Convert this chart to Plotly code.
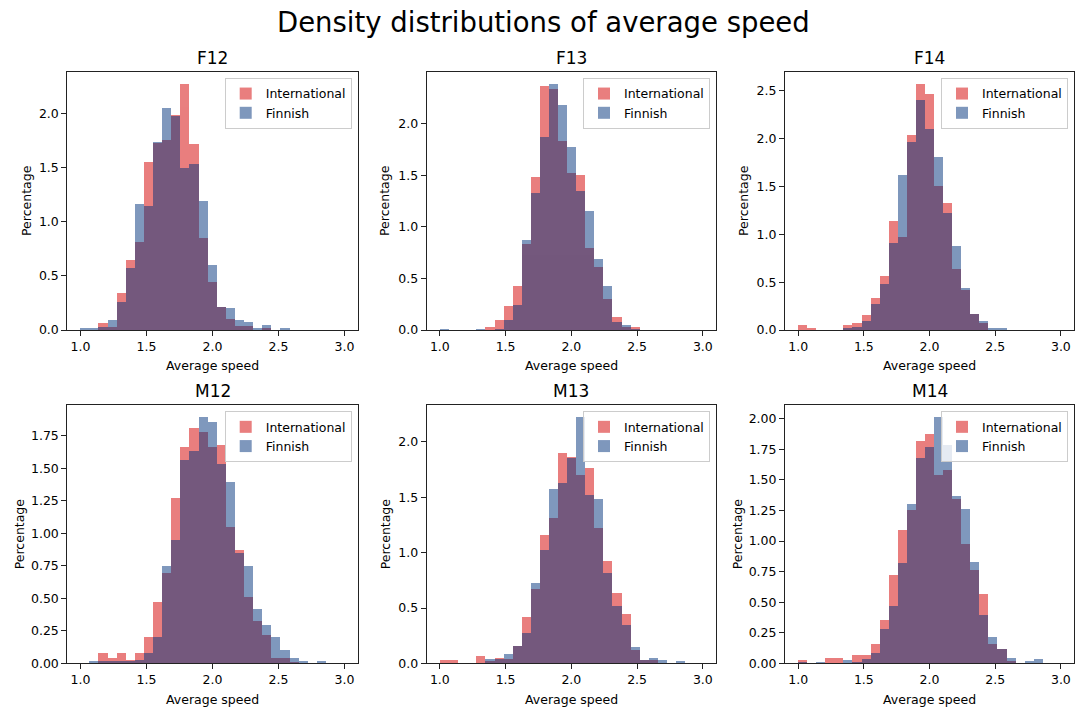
import plotly.graph_objects as go

# ---------------- data ----------------
BIN_START = 1.0
BIN_END = 3.0
N_BINS = 29

panel_titles = ["F12", "F13", "F14", "M12", "M13", "M14"]
series_names = ["International", "Finnish"]
x_tick_vals = [1.0, 1.5, 2.0, 2.5, 3.0]
x_tick_text = ["1.0", "1.5", "2.0", "2.5", "3.0"]

intl_F12 = [0, 0, 0.067, 0.03, 0.34, 0.65, 0.81, 1.55, 1.73, 1.76, 1.99, 2.27, 1.72, 0.85, 0.44,
            0.21, 0.10, 0.04, 0.04, 0, 0.015, 0, 0, 0, 0, 0, 0, 0, 0]
fin_F12 = [0.015, 0.015, 0.03, 0.09, 0.26, 0.57, 1.16, 1.15, 1.74, 2.05, 1.98, 1.50, 1.53, 1.19, 0.60,
           0.21, 0.20, 0.09, 0.075, 0.015, 0.05, 0, 0.015, 0, 0, 0, 0, 0, 0]

intl_F13 = [0, 0, 0, 0, 0, 0.03, 0.095, 0.23, 0.43, 0.83, 1.48, 2.36, 2.33, 1.83, 1.52,
            1.50, 0.79, 0.61, 0.30, 0.13, 0.03, 0.03, 0, 0, 0, 0, 0, 0, 0]
fin_F13 = [0.01, 0, 0, 0, 0.01, 0, 0.01, 0.095, 0.24, 0.87, 1.33, 1.87, 2.38, 2.18, 1.77,
           1.35, 1.15, 0.69, 0.43, 0.08, 0.05, 0.01, 0, 0, 0, 0, 0, 0, 0]

intl_F14 = [0.048, 0.02, 0, 0, 0, 0.048, 0.069, 0.16, 0.34, 0.56, 1.14, 0.97, 2.04, 2.57, 2.47,
            1.51, 1.33, 0.64, 0.42, 0.165, 0.07, 0, 0, 0, 0, 0, 0, 0, 0]
fin_F14 = [0, 0, 0, 0, 0, 0.02, 0.03, 0.093, 0.27, 0.48, 0.91, 1.62, 1.97, 2.41, 2.10,
           1.81, 1.22, 0.88, 0.44, 0.165, 0.096, 0.024, 0.017, 0, 0, 0, 0, 0, 0]

intl_M12 = [0, 0, 0.076, 0.043, 0.076, 0.023, 0.076, 0.20, 0.47, 0.69, 1.27, 1.66, 1.81, 1.78, 1.66,
            1.68, 1.05, 0.87, 0.51, 0.325, 0.216, 0.043, 0.043, 0.008, 0, 0, 0, 0, 0]
fin_M12 = [0, 0.013, 0.018, 0.013, 0.013, 0.013, 0.023, 0.076, 0.20, 0.75, 0.945, 1.56, 1.63, 1.89, 1.85,
           1.53, 1.39, 0.85, 0.75, 0.42, 0.29, 0.20, 0.10, 0.038, 0.013, 0, 0.013, 0, 0]

intl_M13 = [0.024, 0.024, 0, 0, 0.066, 0.02, 0.048, 0.04, 0.155, 0.415, 0.67, 1.155, 1.31, 1.90, 1.86,
            1.70, 1.76, 1.22, 0.92, 0.63, 0.44, 0.12, 0.024, 0.024, 0, 0, 0, 0, 0]
fin_M13 = [0, 0, 0, 0, 0, 0.04, 0.04, 0.087, 0.155, 0.275, 0.72, 1.02, 1.57, 1.63, 1.85,
           2.22, 1.52, 1.48, 0.81, 0.52, 0.34, 0.15, 0.024, 0.045, 0.024, 0, 0.015, 0, 0]

intl_M14 = [0.022, 0, 0, 0.046, 0.046, 0, 0.067, 0.067, 0.154, 0.35, 0.72, 1.09, 1.25, 1.82, 1.87,
            1.54, 1.58, 1.345, 0.976, 0.76, 0.566, 0.154, 0.113, 0.02, 0, 0, 0, 0, 0]
fin_M14 = [0.013, 0, 0.013, 0, 0, 0.027, 0.013, 0.035, 0.08, 0.28, 0.47, 0.82, 1.30, 1.68, 1.77,
           2.01, 1.78, 1.37, 1.26, 0.83, 0.39, 0.216, 0.113, 0.04, 0, 0.019, 0.032, 0, 0]

intl_values = [intl_F12, intl_F13, intl_F14, intl_M12, intl_M13, intl_M14]
fin_values = [fin_F12, fin_F13, fin_F14, fin_M12, fin_M13, fin_M14]

# ---------------- style ----------------
W, H = 1076, 710
FONT = "DejaVu Sans"
FS = 12.5
INTL_COLOR = "rgb(212,0,0)"
FIN_COLOR = "rgb(0,50,124)"
OPACITY = 0.5

col_px = [(67.3, 357.7), (426.7, 716.0), (785.0, 1074.0)]
row_px = [(72.7, 333.3), (409.3, 670.0)]
y_dtick = [0.5, 0.5, 0.5, 0.25, 0.5, 0.25]
y_fmt = [".1f", ".1f", ".1f", ".2f", ".1f", ".2f"]
ylabel_x = [27, 385, 744, 19, 385, 737]

bin_w = (BIN_END - BIN_START) / N_BINS
centers = [BIN_START + (k + 0.5) * bin_w for k in range(N_BINS)]

fig = go.Figure()
layout = dict(
    width=W, height=H,
    margin=dict(l=0, r=0, t=0, b=0),
    paper_bgcolor="white", plot_bgcolor="white",
    barmode="overlay", bargap=0,
    font=dict(family=FONT, size=FS, color="black"),
    showlegend=True,
)
annotations = []

for i, title in enumerate(panel_titles):
    r, c = divmod(i, 3)
    x0, x1 = col_px[c]
    ytop, ybot = row_px[r]
    xd = [x0 / W, x1 / W]
    yd = [1 - ybot / H, 1 - ytop / H]
    sfx = "" if i == 0 else str(i + 1)
    leg = "legend" + sfx

    for vals, name, color in ((intl_values[i], series_names[0], INTL_COLOR),
                              (fin_values[i], series_names[1], FIN_COLOR)):
        fig.add_trace(go.Bar(
            x=centers, y=vals, width=bin_w, name=name,
            marker=dict(color=color, line=dict(width=0)),
            opacity=OPACITY, xaxis="x" + sfx, yaxis="y" + sfx,
            legend=leg, hoverinfo="skip",
        ))

    ymax = max(max(intl_values[i]), max(fin_values[i])) * 1.05
    axis_common = dict(showline=True, linecolor="#222", linewidth=1, mirror=True,
                       ticks="outside", ticklen=5, tickwidth=1, tickcolor="#222",
                       showgrid=False, zeroline=False,
                       tickfont=dict(family=FONT, size=FS, color="black"))
    layout["xaxis" + sfx] = dict(domain=xd, anchor="y" + sfx, range=[BIN_START - 0.1, BIN_END + 0.1],
                                 tickvals=x_tick_vals, ticktext=x_tick_text, **axis_common)
    layout["yaxis" + sfx] = dict(domain=yd, anchor="x" + sfx, range=[0, ymax],
                                 tick0=0, dtick=y_dtick[i], tickformat=y_fmt[i], **axis_common)

    layout[leg] = dict(
        x=(x1 - 6) / W, y=1 - (ytop + 6) / H, xanchor="right", yanchor="top",
        xref="paper", yref="paper",
        bgcolor="rgba(255,255,255,0.8)", bordercolor="#cccccc", borderwidth=1,
        font=dict(family=FONT, size=FS, color="black"),
        tracegroupgap=0, itemwidth=30,
    )

    # panel title
    annotations.append(dict(text=title, x=(x0 + x1) / 2 / W, y=1 - (ytop - 2) / H,
                            xref="paper", yref="paper", xanchor="center", yanchor="bottom",
                            showarrow=False, font=dict(family=FONT, size=17, color="black")))
    # x label
    annotations.append(dict(text="Average speed", x=(x0 + x1) / 2 / W, y=1 - (ybot + 36) / H,
                            xref="paper", yref="paper", xanchor="center", yanchor="middle",
                            showarrow=False, font=dict(family=FONT, size=FS, color="black")))
    # y label
    annotations.append(dict(text="Percentage", x=ylabel_x[i] / W, y=1 - ((ytop + ybot) / 2) / H,
                            xref="paper", yref="paper", xanchor="center", yanchor="middle",
                            textangle=-90, showarrow=False,
                            font=dict(family=FONT, size=FS, color="black")))

annotations.append(dict(text="Density distributions of average speed", x=543 / W, y=1 - 22 / H,
                        xref="paper", yref="paper", xanchor="center", yanchor="middle",
                        showarrow=False, font=dict(family=FONT, size=27.5, color="black")))
layout["annotations"] = annotations
fig.update_layout(**layout)

fig.write_html("out.html")
